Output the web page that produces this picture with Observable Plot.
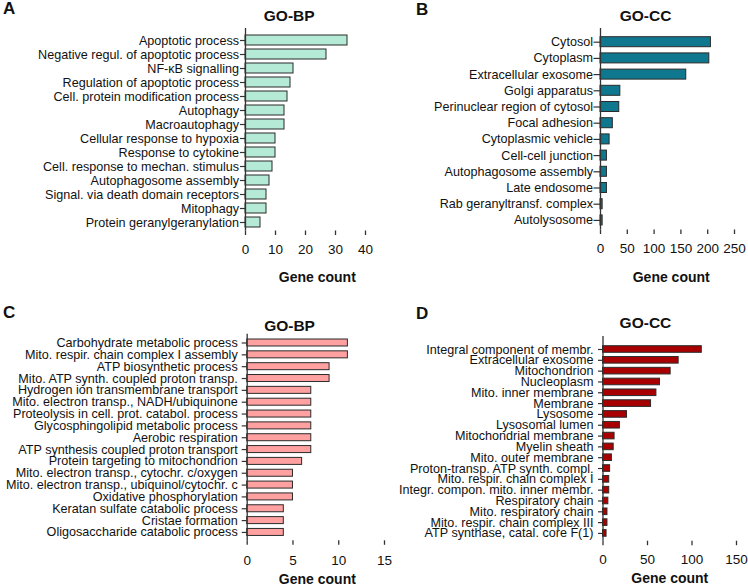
<!DOCTYPE html>
<html>
<head>
<meta charset="utf-8">
<script src="https://cdn.jsdelivr.net/npm/d3@7"></script>
<script src="https://cdn.jsdelivr.net/npm/@observablehq/plot@0.6"></script>
<style>
  html, body { margin: 0; padding: 0; background: #fff; }
  #wrap { position: relative; width: 748px; height: 586px; overflow: hidden; font-family: "Liberation Sans", Arial, sans-serif; color: #111; }
  .panel { position: absolute; }
  .letter { position: absolute; font-weight: bold; font-size: 17px; line-height: 1; }
</style>
</head>
<body>
<div id="wrap"></div>
<script>
// ---- Data ----
const bpALabels = ["Apoptotic process","Negative regul. of apoptotic process","NF-κB signalling","Regulation of apoptotic process","Cell. protein modification process","Autophagy","Macroautophagy","Cellular response to hypoxia","Response to cytokine","Cell. response to mechan. stimulus","Autophagosome assembly","Signal. via death domain receptors","Mitophagy","Protein geranylgeranylation"];
const bpACounts = [34,27,16,15,14,13,13,10,10,9,8,7,7,5];
const bpATicks = [0,10,20,30,40];

const ccBLabels = ["Cytosol","Cytoplasm","Extracellular exosome","Golgi apparatus","Perinuclear region of cytosol","Focal adhesion","Cytoplasmic vehicle","Cell-cell junction","Autophagosome assembly","Late endosome","Rab geranyltransf. complex","Autolysosome"];
const ccBCounts = [206,203,160,37,35,23,17,12,12,12,4,4];
const ccBTicks = [0,50,100,150,200,250];

const bpCLabels = ["Carbohydrate metabolic process","Mito. respir. chain complex I assembly","ATP biosynthetic process","Mito. ATP synth. coupled proton transp.","Hydrogen ion transmembrane transport","Mito. electron transp., NADH/ubiquinone","Proteolysis in cell. prot. catabol. process","Glycosphingolipid metabolic process","Aerobic respiration","ATP synthesis coupled proton transport","Protein targeting to mitochondrion","Mito. electron transp., cytochr. c/oxygen","Mito. electron transp., ubiquinol/cytochr. c","Oxidative phosphorylation","Keratan sulfate catabolic process","Cristae formation","Oligosaccharide catabolic process"];
const bpCCounts = [11,11,9,9,7,7,7,7,7,7,6,5,5,5,4,4,4];
const bpCTicks = [0,5,10,15];

const ccDLabels = ["Integral component of membr.","Extracellular exosome","Mitochondrion","Nucleoplasm","Mito. inner membrane","Membrane","Lysosome","Lysosomal lumen","Mitochondrial membrane","Myelin sheath","Mito. outer membrane","Proton-transp. ATP synth. compl.","Mito. respir. chain complex I","Integr. compon. mito. inner membr.","Respiratory chain","Mito. respiratory chain","Mito. respir. chain complex III","ATP synthase, catal. core F(1)"];
const ccDCounts = [111,85,76,64,60,54,27,19,13,12,10,8,7,7,6,5,5,4];
const ccDTicks = [0,50,100,150];

const titles = ["GO-BP","GO-CC","GO-BP","GO-CC"];
const letters = ["A","B","C","D"];
const xLabel = "Gene count";

const FONT = '"Liberation Sans", Arial, sans-serif';
const INK = "#111";

function panel(o) {
  const data = o.labels.map((l, i) => ({label: l, count: o.counts[i]}));
  const n = data.length;
  const L = o.yBottom - o.yTop;
  const pi = 1 - o.bar / o.step;
  const po = (L / o.step - (n - pi)) / 2;
  const align = Math.max(0, Math.min(1, (o.firstStart - o.yTop) / (2 * po * o.step)));
  const xMax = o.ticks[o.ticks.length - 1];
  const plot = Plot.plot({
    width: o.width,
    height: o.height,
    marginLeft: o.marginLeft,
    marginRight: o.width - o.marginLeft - o.xLen,
    marginTop: o.yTop,
    marginBottom: o.height - o.yBottom,
    style: {background: "transparent", fontFamily: FONT, color: INK, overflow: "visible"},
    x: {domain: [0, xMax]},
    y: {domain: o.labels, paddingInner: pi, paddingOuter: po, align, round: false},
    marks: [
      Plot.barX(data, {x: "count", y: "label", fill: o.color, stroke: "#2b2b2b", strokeWidth: 1}),
      Plot.ruleX([0], {stroke: "#333", strokeWidth: 1.3}),
      Plot.axisY({tickSize: o.yTickSize, tickPadding: o.yTickPad, fontSize: 12.6, label: null, stroke: "#333", strokeWidth: 1.2}),
      Plot.axisX({ticks: o.ticks, tickSize: 4.5, tickPadding: o.xTickPad, fontSize: 13.5, label: null, line: true, stroke: "#333", strokeWidth: 1.3}),
      Plot.text([o.title], {frameAnchor: "top", dx: o.titleDx, dy: o.titleDy, fontWeight: "bold", fontSize: 15.5, lineAnchor: "middle", fill: INK}),
      Plot.text([xLabel], {frameAnchor: "bottom", dx: o.labDx, dy: o.labDy, fontWeight: "bold", fontSize: 14, lineAnchor: "middle", fill: INK})
    ]
  });
  plot.classList.add("panel");
  plot.style.left = o.left + "px";
  plot.style.top = o.top + "px";
  return plot;
}

const wrap = document.getElementById("wrap");

wrap.appendChild(panel({
  labels: bpALabels, counts: bpACounts, ticks: bpATicks, color: "#b4ead6", title: titles[0],
  left: 0, top: 0, width: 374, height: 293, marginLeft: 245, xLen: 120,
  yTop: 28, yBottom: 230.5, firstStart: 35, step: 14, bar: 10,
  yTickSize: 5, yTickPad: 1.5, xTickPad: 9,
  titleDx: -16.3, titleDy: -12, labDx: 11.8, labDy: 46.2
}));
wrap.appendChild(panel({
  labels: ccBLabels, counts: ccBCounts, ticks: ccBTicks, color: "#10788e", title: titles[1],
  left: 374, top: 0, width: 374, height: 293, marginLeft: 226, xLen: 134,
  yTop: 28, yBottom: 229.5, firstStart: 36.7, step: 16.2, bar: 10,
  yTickSize: 6.5, yTickPad: 1, xTickPad: 9,
  titleDx: -22, titleDy: -12.3, labDx: 3.7, labDy: 47.2
}));
wrap.appendChild(panel({
  labels: bpCLabels, counts: bpCCounts, ticks: bpCTicks, color: "#ffa1a1", title: titles[2],
  left: 0, top: 293, width: 400, height: 293, marginLeft: 246.7, xLen: 137.3,
  yTop: 40.7, yBottom: 247.3, firstStart: 46, step: 11.84, bar: 7,
  yTickSize: 5, yTickPad: 4.5, xTickPad: 10,
  titleDx: -26.3, titleDy: -7.7, labDx: 1.5, labDy: 38.6
}));
wrap.appendChild(panel({
  labels: ccDLabels, counts: ccDCounts, ticks: ccDTicks, color: "#a80000", title: titles[3],
  left: 374, top: 293, width: 374, height: 293, marginLeft: 228.5, xLen: 133.5,
  yTop: 43, yBottom: 247.7, firstStart: 52.7, step: 10.82, bar: 6.6,
  yTickSize: 4.5, yTickPad: 5, xTickPad: 9,
  titleDx: -24.3, titleDy: -13, labDx: 0, labDy: 37.6
}));

const letterPos = [[3, 0], [416, 1], [3, 304], [416, 305]];
letters.forEach((t, i) => {
  const d = document.createElement("div");
  d.className = "letter";
  d.textContent = t;
  d.style.left = letterPos[i][0] + "px";
  d.style.top = letterPos[i][1] + "px";
  wrap.appendChild(d);
});
</script>
</body>
</html>
